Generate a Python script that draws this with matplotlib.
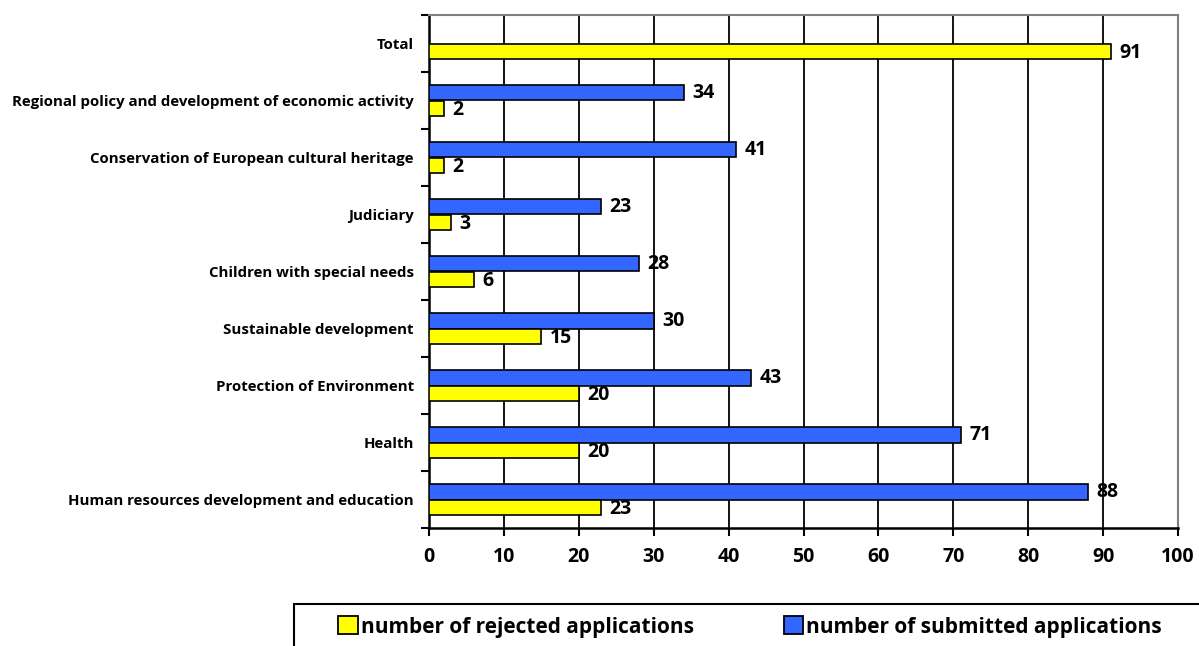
import numpy as np
import matplotlib.pyplot as plt
from matplotlib.patches import Rectangle, Patch

categories = ['Total',
              'Regional policy and development of economic activity',
              'Conservation of European cultural heritage',
              'Judiciary',
              'Children with special needs',
              'Sustainable development',
              'Protection of Environment',
              'Health',
              'Human resources development and education']
submitted = [None, 34, 41, 23, 28, 30, 43, 71, 88]
rejected = [91, 2, 2, 3, 6, 15, 20, 20, 23]

plt.rcParams['font.family'] = ['Open Sans', 'DejaVu Sans']
plt.rcParams['font.weight'] = 'bold'

yellow = '#ffff00'
blue = '#3366ff'

fig = plt.figure(figsize=(11.99, 6.46), dpi=100)
ax = fig.add_axes([429/1199, 1 - 528/646, 749/1199, 513/646])

n = len(categories)
y = np.arange(n)  # 0 = top
h = 0.28
for i in range(n):
    if submitted[i] is not None:
        ax.barh(y[i] - h/2, submitted[i], height=h, color=blue, edgecolor='black', linewidth=1.2, zorder=3)
        ax.annotate(str(submitted[i]), (submitted[i], y[i] - h/2), xytext=(6, 0),
                    textcoords='offset points', va='center', ha='left',
                    fontsize=14, fontweight='bold')
    ax.barh(y[i] + h/2, rejected[i], height=h, color=yellow, edgecolor='black', linewidth=1.2, zorder=3)
    ax.annotate(str(rejected[i]), (rejected[i], y[i] + h/2), xytext=(6, -1),
                textcoords='offset points', va='center', ha='left',
                fontsize=14, fontweight='bold')

ax.set_ylim(n - 0.5, -0.5)
ax.set_xlim(0, 100)
ax.set_xticks(np.arange(0, 101, 10))
ax.set_yticks(np.arange(n + 1) - 0.5, minor=False)
ax.set_yticklabels([])
ax.set_yticks(y, minor=True)
ax.set_yticklabels(categories, minor=True, fontsize=10.85, fontweight='bold')
ax.tick_params(axis='y', which='minor', length=0, pad=11)
ax.tick_params(axis='y', which='major', length=6, width=1.5, direction='out')
ax.tick_params(axis='x', length=6, width=1.5, direction='out', labelsize=14, pad=8)
for lab in ax.get_xticklabels():
    lab.set_fontweight('bold')

ax.grid(axis='x', color='black', linewidth=1.3, zorder=0)
ax.set_axisbelow(True)
for s in ['left', 'bottom']:
    ax.spines[s].set_linewidth(1.8)
    ax.spines[s].set_color('black')
for s in ['top', 'right']:
    ax.spines[s].set_linewidth(1.5)
    ax.spines[s].set_color('#808080')

# legend box (runs off the right edge like the original)
fig.patches.append(Rectangle((294/1199, -0.05), 0.9, 0.05 + 1 - 604/646,
                             transform=fig.transFigure, fill=False,
                             edgecolor='black', linewidth=1.5, clip_on=False))
handles = [Patch(facecolor=yellow, edgecolor='black', linewidth=1.3),
           Patch(facecolor=blue, edgecolor='black', linewidth=1.3)]
fig.legend(handles, ['number of rejected applications', 'number of submitted applications'],
           loc='center left', bbox_to_anchor=(338/1199, 1 - 627/646), ncol=2, frameon=False,
           prop={'size': 15, 'weight': 'bold'}, handlelength=0.95, handleheight=0.95,
           handletextpad=0.15, columnspacing=4.3, borderaxespad=0, borderpad=0)

fig.savefig('out.png', dpi=100)
